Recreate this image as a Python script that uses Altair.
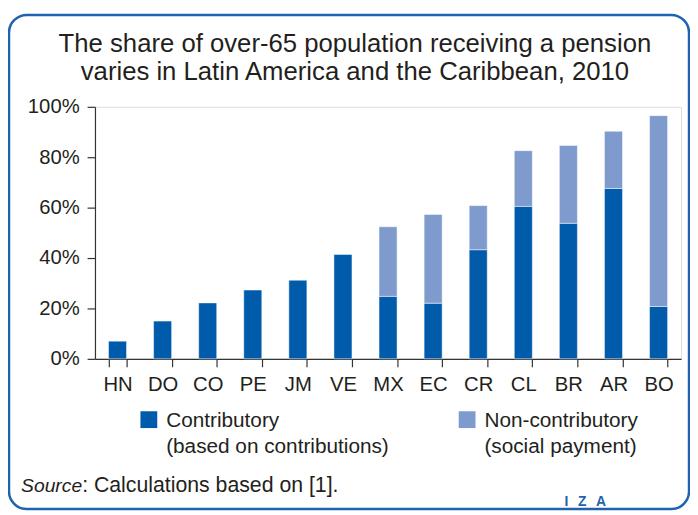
import json
import altair as alt
import pandas as pd

# ---- data ----
countries = ["HN", "DO", "CO", "PE", "JM", "VE", "MX", "EC", "CR", "CL", "BR", "AR", "BO"]
contributory = [7.0, 15.0, 22.2, 27.3, 31.2, 41.4, 24.8, 22.1, 43.3, 60.5, 53.8, 67.6, 20.8]
non_contributory = [0.0, 0.0, 0.0, 0.0, 0.0, 0.0, 27.6, 35.2, 17.5, 22.1, 30.9, 22.7, 75.7]
series = ["Contributory", "Non-contributory"]
series_labels = [["Contributory", "(based on contributions)"],
                 ["Non-contributory", "(social payment)"]]
colors = ["#005BAA", "#7F9ACD"]
y_ticks = [0, 0.2, 0.4, 0.6, 0.8, 1.0]
title_lines = ["The share of over-65 population receiving a pension",
               "varies in Latin America and the Caribbean, 2010"]
source_label = "Source"
source_text = ": Calculations based on [1]."
logo_text = "I\u2002\u2009Z\u2002\u2009A"

FONT = "Liberation Sans"
TEXT = "#231f20"
AXIS = "#333333"
BLUE = "#1f63b0"

rows = []
for c, a, b in zip(countries, contributory, non_contributory):
    rows.append({"country": c, "type": series[0], "share": a / 100, "order": 0})
    if b > 0:
        rows.append({"country": c, "type": series[1], "share": b / 100, "order": 1})
df = pd.DataFrame(rows)

label_expr = "datum.label == {} ? {} : {}".format(
    json.dumps(series[0]), json.dumps(series_labels[0]), json.dumps(series_labels[1]))

bars = alt.Chart(df).mark_bar(stroke="white", strokeWidth=0.8, strokeOpacity=0.6).encode(
    x=alt.X("country:N", sort=countries,
            scale=alt.Scale(paddingInner=0.6, paddingOuter=0.3),
            axis=alt.Axis(title=None, labelAngle=0, tickBand="extent", tickSize=8,
                          labelPadding=8, labelFontSize=20.5, labelFont=FONT,
                          labelColor=TEXT, domainColor=AXIS, tickColor=AXIS,
                          domainWidth=1.2, tickWidth=1.2)),
    y=alt.Y("share:Q", stack="zero", scale=alt.Scale(domain=[0, 1]),
            axis=alt.Axis(title=None, values=y_ticks, format=".0%", grid=False,
                          tickSize=8, labelPadding=8, labelFontSize=20.5, labelFont=FONT,
                          labelColor=TEXT, domainColor=AXIS, tickColor=AXIS,
                          domainWidth=1.2, tickWidth=1.2)),
    color=alt.Color("type:N", scale=alt.Scale(domain=series, range=colors),
                    legend=alt.Legend(orient="none", legendX=44, legendY=296,
                                      direction="horizontal", columns=2, title=None,
                                      symbolType="M-1,0.15H1V2.15H-1Z", symbolSize=289,
                                      symbolStrokeWidth=0, labelOffset=7,
                                      labelFontSize=21, labelFont=FONT, labelColor=TEXT,
                                      labelBaseline="top",
                                      labelExpr=label_expr, columnPadding=68,
                                      padding=0, labelLimit=500)),
    order=alt.Order("order:Q"),
)

one = pd.DataFrame({"k": [0]})

border = alt.Chart(one).mark_rect(fillOpacity=0, stroke=BLUE, strokeWidth=2.5,
                                  cornerRadius=18).encode(
    x=alt.value(-87), x2=alt.value(601), y=alt.value(-93), y2=alt.value(407))

title = alt.Chart(one).mark_text(text=title_lines, font=FONT, fontSize=26,
                                 color=TEXT, align="center", baseline="top",
                                 lineHeight=28.3).encode(
    x=alt.value(263), y=alt.value(-76))

src1 = alt.Chart(one).mark_text(text=source_label, font=FONT, fontSize=19.5,
                                fontStyle="italic", color=TEXT, align="right",
                                baseline="alphabetic").encode(
    x=alt.value(-13), y=alt.value(390))
src2 = alt.Chart(one).mark_text(text=source_text, font=FONT, fontSize=21.5,
                                color=TEXT, align="left",
                                baseline="alphabetic").encode(
    x=alt.value(-13), y=alt.value(390))
logo = alt.Chart(one).mark_text(text=logo_text, font=FONT, fontSize=14,
                                fontWeight="bold", color=BLUE, align="center",
                                baseline="alphabetic").encode(
    x=alt.value(496), y=alt.value(404))

chart = alt.layer(border, title, bars, src1, src2, logo).properties(
    width=593, height=255,
    padding={"left": 88, "top": 97, "right": 9, "bottom": 155},
    autosize=alt.AutoSizeParams(type="none"),
).configure_view(stroke=None).configure(
    background="white",
    style={"guide-label": {"lineHeight": 27}},
)

chart.save("out.html", embed_options={"renderer": "svg", "actions": False})
